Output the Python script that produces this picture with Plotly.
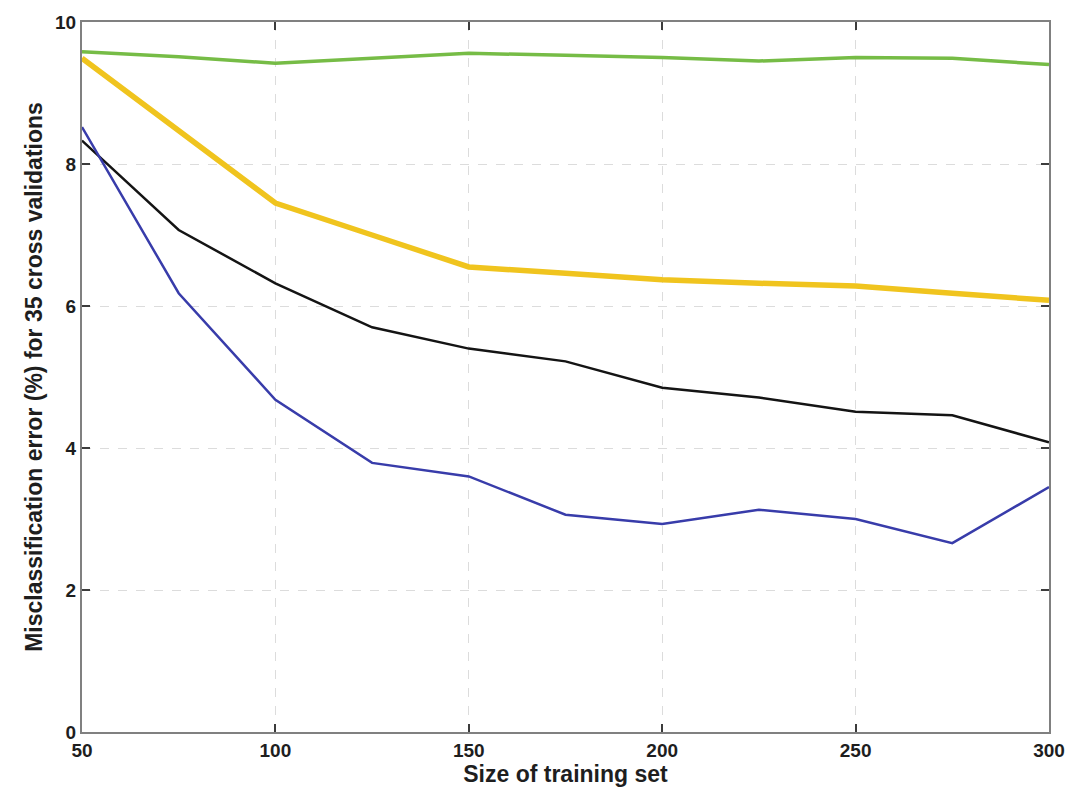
import plotly.graph_objects as go

# training set sizes
train_size = [50, 75, 100, 125, 150, 175, 200, 225, 250, 275, 300]

# misclassification error (%) per classifier
err_green = [9.58, 9.51, 9.42, 9.49, 9.56, 9.53, 9.50, 9.45, 9.50, 9.49, 9.40]
err_yellow = [9.49, 8.47, 7.45, 7.00, 6.55, 6.46, 6.37, 6.32, 6.28, 6.18, 6.08]
err_black = [8.33, 7.07, 6.32, 5.70, 5.40, 5.22, 4.85, 4.71, 4.51, 4.46, 4.08]
err_blue = [8.52, 6.18, 4.68, 3.79, 3.60, 3.06, 2.93, 3.13, 3.00, 2.66, 3.45]

x_ticks = [50, 100, 150, 200, 250, 300]
y_ticks = [0, 2, 4, 6, 8, 10]

fig = go.Figure()

fig.add_trace(go.Scatter(x=train_size, y=err_green, mode='lines',
                         line=dict(color='rgb(118, 188, 70)', width=3.5), showlegend=False))
fig.add_trace(go.Scatter(x=train_size, y=err_yellow, mode='lines',
                         line=dict(color='rgb(240, 196, 30)', width=5.5), showlegend=False))
fig.add_trace(go.Scatter(x=train_size, y=err_black, mode='lines',
                         line=dict(color='rgb(20, 20, 20)', width=2.5), showlegend=False))
fig.add_trace(go.Scatter(x=train_size, y=err_blue, mode='lines',
                         line=dict(color='rgb(56, 60, 170)', width=2.5), showlegend=False))

axis_font = dict(family='Liberation Sans, Arial, sans-serif', size=19, color='rgb(30, 30, 30)')
title_font = dict(family='Liberation Sans, Arial, sans-serif', size=23, color='rgb(30, 30, 30)')

fig.update_xaxes(range=[50, 300], tickvals=x_ticks, ticktext=['<b>%d</b>' % v for v in x_ticks],
                 tickfont=axis_font, ticks='inside', ticklen=8, tickwidth=1.5, tickcolor='rgb(60, 60, 60)',
                 showline=True, linecolor='rgb(128, 128, 128)', linewidth=2, mirror='ticks',
                 showgrid=True, gridcolor='rgb(220, 220, 220)', griddash='dash', gridwidth=1,
                 zeroline=False, automargin=False,
                 title=dict(text='<b>Size of training set</b>', font=title_font, standoff=6))
fig.update_yaxes(range=[0, 10], tickvals=y_ticks, ticktext=['<b>%d</b>' % v for v in y_ticks],
                 tickfont=axis_font, ticks='inside', ticklen=8, tickwidth=1.5, tickcolor='rgb(60, 60, 60)',
                 showline=True, linecolor='rgb(128, 128, 128)', linewidth=2, mirror='ticks',
                 showgrid=True, gridcolor='rgb(220, 220, 220)', griddash='dash', gridwidth=1,
                 zeroline=False, automargin=False,
                 title=dict(text='<b>Misclassification error (%) for 35 cross validations</b>',
                            font=title_font, standoff=6))

fig.update_layout(width=1090, height=800,
                  margin=dict(l=74, r=49, t=14, b=76),
                  paper_bgcolor='white', plot_bgcolor='white')

fig.write_html("out.html")
